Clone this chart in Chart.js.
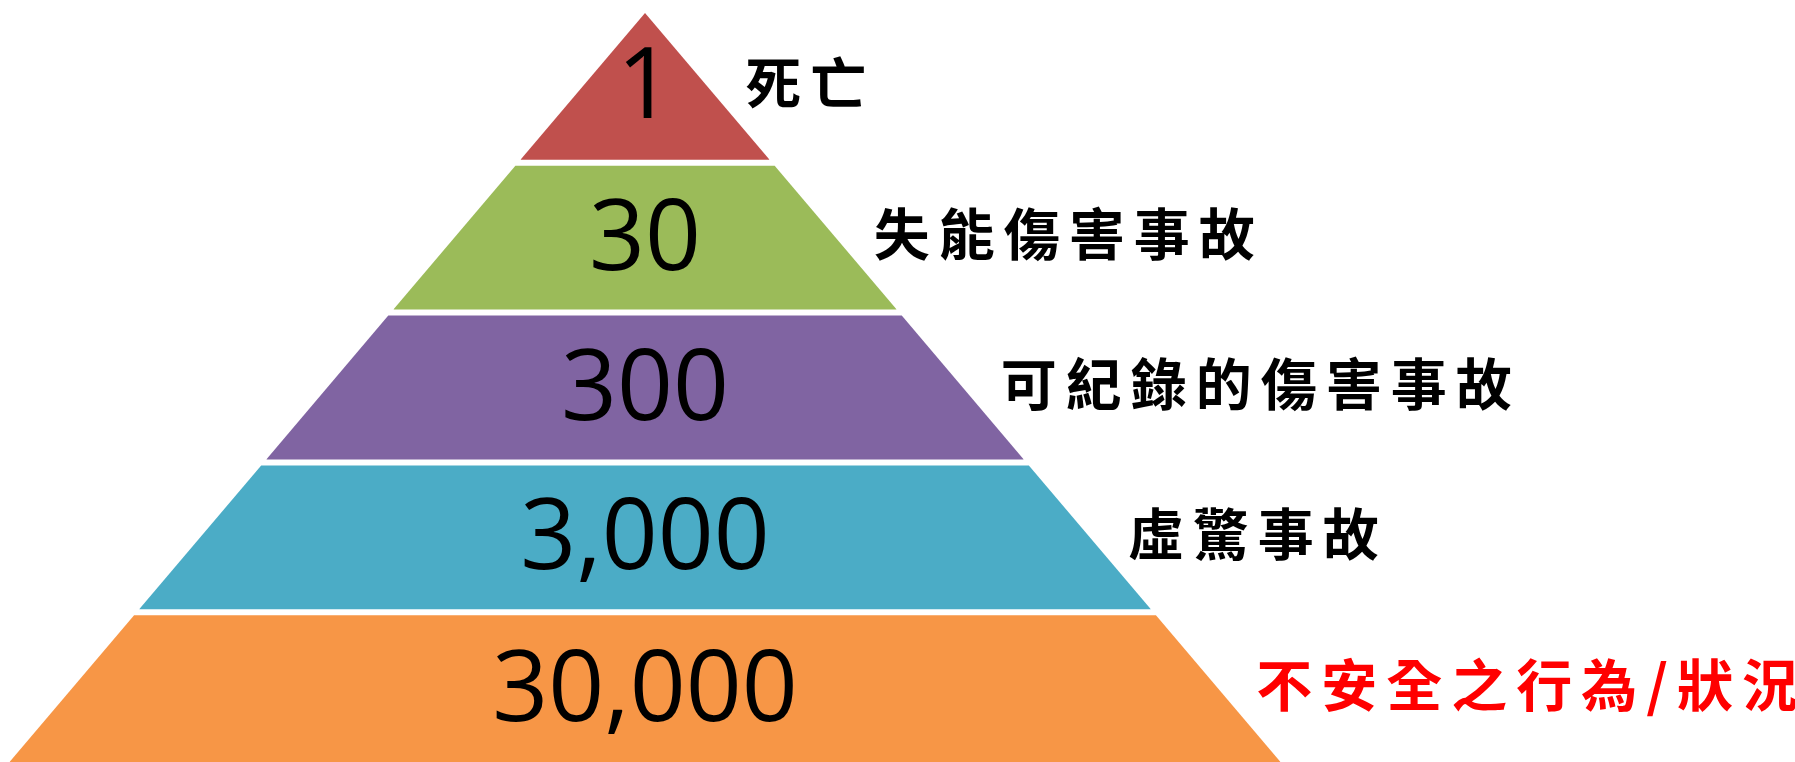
<!DOCTYPE html>
<html lang="zh-Hant">
<head>
<meta charset="UTF-8">
<script src="https://cdn.jsdelivr.net/npm/chart.js"></script>
<style>
    html, body { margin: 0; padding: 0; background: #fff; }
    #box { width: 1795px; height: 762px; }
</style>
<title>Heinrich pyramid</title>
</head>
<body>
<div id="box"><canvas id="piramide" width="1795" height="762"></canvas></div>
<script>
    // data, top of the pyramid first
    const pyramidLevels = ['死亡', '失能傷害事故', '可紀錄的傷害事故', '虛驚事故', '不安全之行為/狀況']
    const pyramidCounts = [1, 30, 300, 3000, 30000]

    const levelColours = ['#C0504D', '#9BBB59', '#8064A2', '#4BACC6', '#F79646']
    const labelColours = ['#000000', '#000000', '#000000', '#000000', '#FF0000']

    const n = pyramidLevels.length
    const gap = 0.02   // half of the white gap between bands, in level units

    // half width of the triangle at height y (0 = base, n = apex)
    function halfWidth(y) {
        return (n - y) / n
    }

    function bandTop(i) { return i == 0 ? n : n - i - gap }
    function bandBottom(i) { return i == n - 1 ? 0 : n - i - 1 + gap }

    var datasets = []
    for (var i = 0; i < n; i++) {
        var t = bandTop(i)
        var b = bandBottom(i)
        datasets.push({
            label: pyramidLevels[i],
            data: [
                {x: -halfWidth(b), y: b},
                {x: -halfWidth(t), y: t},
                {x: halfWidth(t), y: t},
                {x: halfWidth(b), y: b}
            ],
            fill: {value: b},
            backgroundColor: levelColours[i],
            borderColor: 'rgba(0,0,0,0)',
            borderWidth: 0,
            pointRadius: 0,
            tension: 0
        })
    }

    const rotulos = {
        id: 'rotulos',
        afterDatasetsDraw(chart) {
            const ctx = chart.ctx
            const sx = chart.scales.x
            const sy = chart.scales.y
            ctx.save()
            for (var i = 0; i < n; i++) {
                var meio = (bandTop(i) + bandBottom(i)) / 2
                var yPix = sy.getPixelForValue(meio)

                // number inside the band
                ctx.fillStyle = '#000000'
                ctx.font = '98px "Open Sans"'
                ctx.textAlign = 'center'
                ctx.textBaseline = 'alphabetic'
                ctx.letterSpacing = '0px'
                ctx.fillText(pyramidCounts[i].toLocaleString('en-US'), sx.getPixelForValue(0), yPix - 3 + 35)

                // label to the right of the band
                ctx.fillStyle = labelColours[i]
                ctx.font = 'bold 56px "Noto Sans CJK TC"'
                ctx.textAlign = 'left'
                ctx.textBaseline = 'middle'
                ctx.letterSpacing = '9px'
                ctx.fillText(pyramidLevels[i], sx.getPixelForValue(halfWidth(meio)) + 38, yPix - 4)
            }
            ctx.restore()
        }
    }

    new Chart(piramide, {
        type: 'line',
        data: { datasets: datasets },
        options: {
            responsive: false,
            devicePixelRatio: 1,
            animation: false,
            layout: { padding: 0 },
            plugins: {
                legend: { display: false },
                tooltip: { enabled: false }
            },
            scales: {
                x: { type: 'linear', display: false, min: -1.015, max: 1.8096 },
                y: { type: 'linear', display: false, min: 0, max: 5.087 }
            }
        },
        plugins: [rotulos]
    })
</script>
</body>
</html>
